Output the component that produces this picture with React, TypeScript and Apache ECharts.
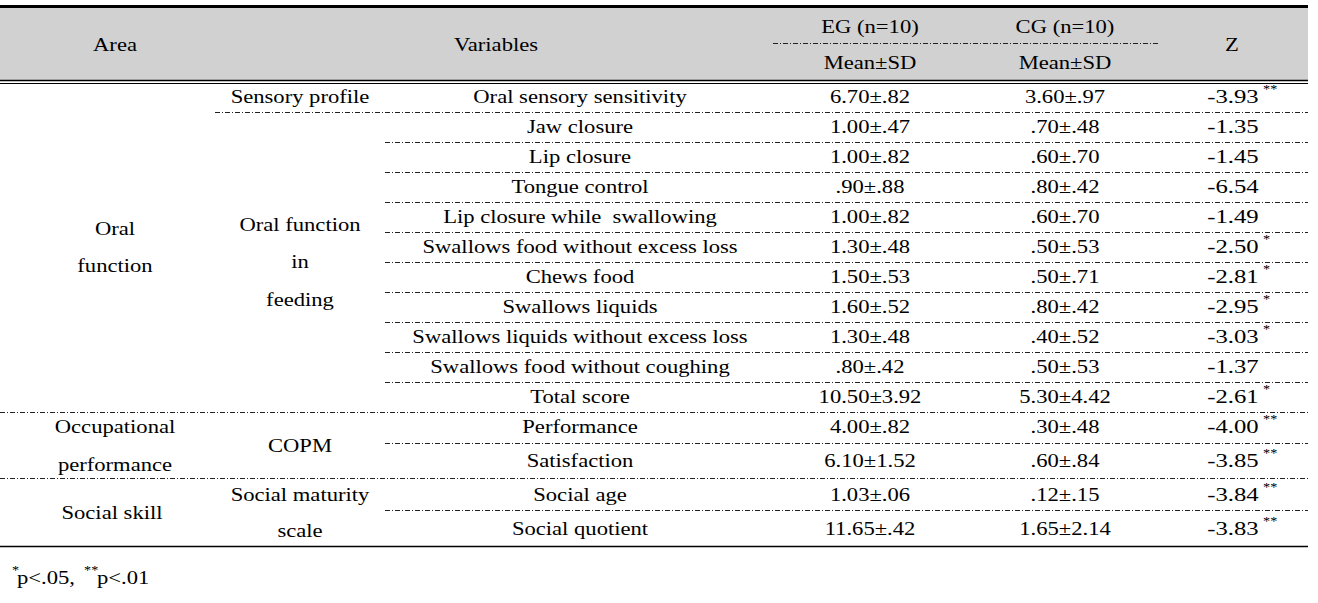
import React, { useEffect, useRef } from "react";
import * as echarts from "echarts";

const headers = ["Area", "Variables", "EG (n=10)", "CG (n=10)", "Mean±SD", "Mean±SD", "Z"];
const areas = [["Oral", "function"], ["Occupational", "performance"], ["Social skill"]];
const groups = [["Sensory profile"], ["Oral function", "in", "feeding"], ["COPM"], ["Social maturity", "scale"]];
const variables = [
  "Oral sensory sensitivity",
  "Jaw closure",
  "Lip closure",
  "Tongue control",
  "Lip closure while  swallowing",
  "Swallows food without excess loss",
  "Chews food",
  "Swallows liquids",
  "Swallows liquids without excess loss",
  "Swallows food without coughing",
  "Total score",
  "Performance",
  "Satisfaction",
  "Social age",
  "Social quotient",
];
const egValues = ["6.70±.82", "1.00±.47", "1.00±.82", ".90±.88", "1.00±.82", "1.30±.48", "1.50±.53", "1.60±.52", "1.30±.48", ".80±.42", "10.50±3.92", "4.00±.82", "6.10±1.52", "1.03±.06", "11.65±.42"];
const cgValues = ["3.60±.97", ".70±.48", ".60±.70", ".80±.42", ".60±.70", ".50±.53", ".50±.71", ".80±.42", ".40±.52", ".50±.53", "5.30±4.42", ".30±.48", ".60±.84", ".12±.15", "1.65±2.14"];
const zValues = ["-3.93", "-1.35", "-1.45", "-6.54", "-1.49", "-2.50", "-2.81", "-2.95", "-3.03", "-1.37", "-2.61", "-4.00", "-3.85", "-3.84", "-3.83"];
const zSig = ["**", "", "", "", "", "*", "*", "*", "*", "", "*", "**", "**", "**", "**"];
const footnote = [["*", "p<.05,"], ["**", "p<.01"]];

// layout
const ROW_Y = [97, 127, 157, 187, 217, 247, 277, 307, 337, 367, 397, 427, 461, 495, 529];
const AREA_Y = [[229, 266], [427, 465], [513]];
const AREA_X = [115, 115, 112];
const GROUP_Y = [[97], [225, 262, 300], [446], [495, 531]];
const GROUP_X = 300;
const VAR_X = 580;
const EG_X = 870;
const CG_X = 1065;
const Z_X = 1233;
const RIGHT = 1308;
const FONT = "Liberation Serif";
const FS = 19;
const SX = 1.19;

export default function App() {
  const ref = useRef<HTMLDivElement>(null);
  useEffect(() => {
    document.body.style.margin = "0";
    const chart = echarts.init(ref.current!, undefined, { renderer: "svg" });
    const g: any[] = [];
    const txt = (x: number, y: number, s: string, size = FS, align = "center", sx = SX) =>
      g.push({
        type: "text",
        x,
        y,
        scaleX: sx,
        style: {
          text: s,
          x: 0,
          y: 0,
          fill: "#000",
          fontFamily: FONT,
          fontSize: size,
          align,
          verticalAlign: "middle",
        },
      });
    const solid = (x1: number, x2: number, y: number, w = 1) =>
      g.push({ type: "line", shape: { x1, y1: y, x2, y2: y }, style: { stroke: "#000", lineWidth: w } });
    const dashed = (x1: number, x2: number, y: number) =>
      g.push({
        type: "line",
        shape: { x1, y1: y, x2, y2: y },
        style: { stroke: "#222", lineWidth: 1, lineDash: [5, 2, 1, 2] },
      });

    // header background
    g.push({ type: "rect", shape: { x: 0, y: 8, width: RIGHT, height: 72 }, style: { fill: "#d1d1d1" } });
    solid(0, RIGHT, 6.5, 3);
    solid(0, RIGHT, 80.5, 1.5);
    solid(0, RIGHT, 83.5, 1);
    dashed(773, 1160, 43.5);

    txt(115, 45, headers[0]);
    txt(496, 45, headers[1]);
    txt(EG_X, 27, headers[2]);
    txt(CG_X, 27, headers[3]);
    txt(EG_X, 63, headers[4]);
    txt(CG_X, 63, headers[5]);
    txt(1232, 45, headers[6]);

    areas.forEach((lines, i) => lines.forEach((s, j) => txt(AREA_X[i], AREA_Y[i][j], s)));
    groups.forEach((lines, i) => lines.forEach((s, j) => txt(GROUP_X, GROUP_Y[i][j], s)));

    variables.forEach((v, i) => {
      const y = ROW_Y[i];
      txt(VAR_X, y, v);
      txt(EG_X, y, egValues[i]);
      txt(CG_X, y, cgValues[i]);
      txt(Z_X, y, zValues[i], FS, "center", 1.3);
      if (zSig[i]) txt(Z_X + 30, y - 8, zSig[i], 12, "left");
    });

    // row separators
    dashed(215, RIGHT, 112.5);
    for (let i = 1; i < 10; i++) dashed(385, RIGHT, (ROW_Y[i] + ROW_Y[i + 1]) / 2 + 0.5);
    dashed(0, RIGHT, 412.5);
    dashed(385, RIGHT, 443.5);
    dashed(0, RIGHT, 478.5);
    dashed(385, RIGHT, 510.5);
    solid(0, RIGHT, 546.5, 1.5);

    // footnote
    txt(12, 570, footnote[0][0], 12, "left");
    txt(17, 578, footnote[0][1], FS, "left");
    txt(84, 570, footnote[1][0], 12, "left");
    txt(97, 578, footnote[1][1], FS, "left");

    chart.setOption({ animation: false, graphic: { elements: g } });
    return () => chart.dispose();
  }, []);
  return <div ref={ref} style={{ width: 1318, height: 603 }} />;
}
